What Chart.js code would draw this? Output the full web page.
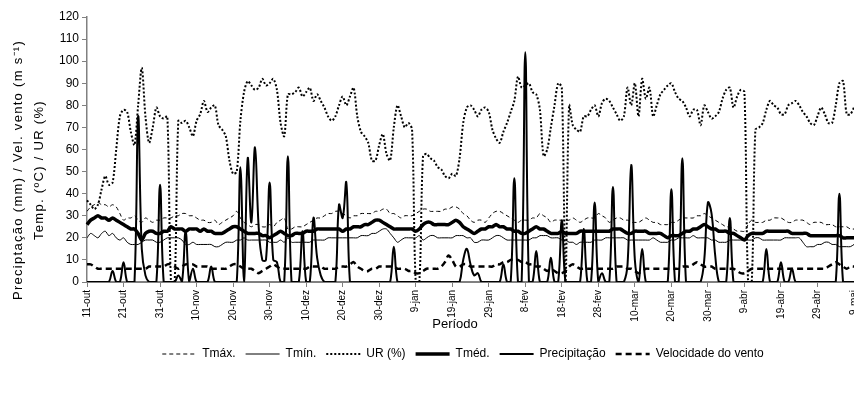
<!DOCTYPE html>
<html>
<head>
<meta charset="utf-8">
<script src="https://cdn.jsdelivr.net/npm/chart.js@4.4.0/dist/chart.umd.min.js"></script>
<style>
  html, body { margin: 0; padding: 0; background: #fff; overflow: hidden; }
  #wrap { width: 870px; height: 394px; }
</style>
</head>
<body>
<div id="wrap"><canvas id="grafico"></canvas></div>
<script>
// rótulos do eixo x (um a cada 10 dias)
var tickLabels = ['11-out','21-out','31-out','10-nov','20-nov','30-nov','10-dez','20-dez','30-dez','9-jan',
  '19-jan','29-jan','8-fev','18-fev','28-fev','10-mar','20-mar','30-mar','9-abr','19-abr','29-abr','9-mai'];

// valores diários (11-out a 9-mai)
var tmax = [
  32,34,35,36,35,35,34,35,34,31, 28,29,29,30,28,27,29,28,27,28,
  28,29,29,29,30,30,31,31,30,30, 29,28,28,27,27,28,26,27,28,29,
  30,32,29,27,26,25,26,26,25,25, 26,25,27,28,29,24,24,25,25,25,
  26,27,28,29,29,30,31,31,32,32, 31,30,29,30,30,31,31,31,31,32,
  32,33,33,31,31,30,29,30,30,30, 31,32,33,33,32,32,32,32,33,33,
  34,34,33,31,30,28,27,28,28,27, 29,31,32,32,31,30,29,28,27,28,
  28,28,29,29,31,30,29,27,28,28, 28,28,28,29,28,27,28,29,29,29,
  31,30,29,27,28,29,29,28,28,27, 27,27,28,29,28,27,27,26,26,26,
  27,27,28,29,29,29,29,30,30,31, 30,29,28,27,26,25,25,24,23,23,
  23,26,28,27,27,27,28,28,29,29, 29,28,27,27,28,28,28,27,26,27,
  27,27,26,26,26,25,25,25,25,24,24
];
var tmin = [
  20,22,21,20,22,23,21,22,20,19, 20,18,17,17,17,18,19,19,19,18,
  18,19,20,20,20,20,19,17,17,18, 17,17,17,17,17,16,16,17,18,18,
  18,19,19,20,19,19,19,19,19,19, 18,18,18,19,18,20,18,18,18,18,
  18,18,19,19,19,19,20,20,20,20, 20,20,20,20,20,21,21,21,22,22,
  23,24,24,22,20,18,19,20,20,20, 20,21,19,20,21,21,20,20,20,20,
  20,21,21,21,20,20,18,18,19,19, 19,20,21,21,20,19,19,19,19,19,
  19,19,20,20,21,21,21,20,20,20, 19,19,18,18,17,18,18,18,18,19,
  19,19,20,20,20,20,20,20,19,19, 19,19,19,19,19,20,19,18,18,18,
  19,19,20,20,20,20,21,20,20,20, 20,19,19,18,18,18,19,19,19,19,
  19,19,19,20,20,19,19,19,19,19, 19,20,20,20,20,20,18,16,16,16,
  17,17,18,18,17,17,16,16,16,16,17
];
var ur = [
  37,35,33,35,42,48,44,45,60,75, 78,77,68,62,80,97,75,63,70,79,
  75,74,75,0,0,73,72,73,70,66, 73,76,82,77,79,80,71,69,66,55,
  49,50,73,86,91,89,87,88,92,89, 90,92,87,72,66,85,85,86,88,84,
  86,88,82,85,82,79,75,73,75,80, 84,80,84,88,75,68,66,63,55,55,
  62,67,58,55,70,80,75,70,72,69, 0,0,57,58,56,55,52,51,48,47,
  49,48,56,72,79,80,78,75,78,79, 77,69,65,63,68,72,77,82,93,88,
  89,90,86,85,78,57,60,70,80,90, 88,0,80,71,69,68,75,75,78,80,
  75,81,83,82,79,76,73,75,88,80, 90,75,92,83,88,75,80,85,87,89,
  90,86,83,82,79,75,78,78,71,80, 77,74,75,77,83,87,88,79,84,87,
  86,0,0,69,70,72,78,82,80,79, 76,76,80,81,82,80,77,75,72,71,
  75,79,76,72,72,80,90,91,76,76,79
];
var tmed = [
  26,28,29,30,29,29,28,29,28,27, 26,25,24,24,22,19,22,23,23,22,
  22,23,23,25,24,24,24,23,24,24, 24,23,24,23,23,22,22,22,23,24,
  25,25,24,23,22,22,22,22,21,21, 20,21,22,23,22,21,21,22,22,22,
  23,23,23,24,24,24,24,24,24,24, 23,24,24,25,25,25,26,26,27,28,
  28,27,26,25,24,24,24,24,24,24, 23,24,26,27,27,26,26,26,26,26,
  27,28,27,25,24,23,22,23,24,24, 25,25,26,25,25,24,24,23,23,22,
  22,23,24,25,24,24,23,22,22,22, 23,22,22,22,22,23,23,23,23,23,
  23,23,23,23,24,24,24,23,22,22, 23,23,23,23,22,22,22,22,21,20,
  21,21,21,22,23,23,24,24,25,26, 25,24,24,23,23,23,22,22,21,20,
  19,21,22,22,22,22,23,23,23,23, 23,23,23,22,22,22,22,22,21,21,
  21,21,21,21,21,21,21,20,20,20,20
];
var precip = [
  0,0,0,0,0,0,0,5,0,0, 9,0,0,0,75,15,3,0,0,0,
  44,0,0,0,0,3,0,23,0,6, 0,0,0,0,7,0,0,0,0,0,
  0,0,52,0,56,27,61,25,10,10, 45,10,9,0,0,57,0,0,0,23,
  0,0,29,11,3,0,0,0,0,35, 29,45,0,0,0,0,0,0,0,0,
  0,0,0,0,16,0,0,0,0,0, 0,0,0,0,0,0,0,0,0,0,
  0,0,0,10,15,8,3,4,0,0, 0,0,0,0,8,0,0,47,0,0,
  104,0,0,14,0,0,0,11,0,0, 28,0,0,0,0,0,24,0,0,36,
  0,4,0,0,43,0,0,0,8,53, 10,0,15,0,0,0,0,0,0,0,
  42,0,0,56,0,0,0,0,0,10, 36,31,12,0,0,0,29,0,0,0,
  0,0,0,0,0,0,15,0,0,0, 9,0,0,6,0,0,0,0,0,0,
  0,0,0,0,0,0,40,0,0,0,0
];
var vento = [
  8,8,7,6,6,6,6,6,6,6, 6,6,6,6,6,6,6,7,7,7,
  7,7,8,8,7,6,7,8,8,8, 7,7,7,7,6,6,6,6,6,7,
  8,8,7,6,6,6,5,4,5,6, 7,8,7,6,6,6,6,6,6,6,
  6,7,7,7,7,6,6,6,6,7, 7,7,8,9,7,6,5,5,6,6,
  7,7,7,7,7,6,6,6,5,5, 4,4,5,6,6,6,6,7,9,12,
  10,7,7,8,8,7,7,7,7,7, 7,7,8,8,9,9,10,10,10,9,
  9,8,8,7,7,6,5,6,5,4, 4,5,7,8,7,6,6,6,6,6,
  6,6,6,6,6,7,7,7,6,6, 5,4,5,6,6,6,6,6,6,6,
  6,6,6,7,7,7,8,9,8,7, 7,7,6,6,6,6,6,6,5,4,
  4,5,6,6,6,6,6,6,6,6, 6,6,6,6,6,6,6,6,6,6,
  6,6,6,7,8,9,8,7,6,7,7
];

var dias = tmax.map(function(v, i) { return i; });
var fonte = '"Liberation Sans", Arial, sans-serif';

// títulos dos eixos desenhados à mão (posições do original)
var titulos = {
  id: 'titulos',
  afterLayout: function(chart) {
    // legenda um pouco deslocada para a direita, como no original
    chart.legend.left += 72;
  },
  afterDraw: function(chart) {
    var ctx = chart.ctx;
    ctx.save();
    ctx.fillStyle = '#000';
    ctx.textAlign = 'center';
    ctx.textBaseline = 'middle';
    ctx.font = '13px ' + fonte;
    ctx.fillText('Período', 455, 324);
    ctx.letterSpacing = '1.3px';
    ctx.translate(18, 170);
    ctx.rotate(-Math.PI / 2);
    ctx.fillText('Preciptação (mm) / Vel. vento (m s⁻¹)', 0, 0);
    ctx.fillText('Temp. (ºC) / UR (%)', 0, 21);
    ctx.restore();
  }
};

function serie(label, data, width, dash, tension) {
  return {
    label: label,
    data: data,
    borderColor: '#000',
    backgroundColor: '#000',
    borderWidth: width,
    borderDash: dash,
    pointRadius: 0,
    tension: tension,
    fill: false
  };
}

var ctx = document.getElementById('grafico');
var myChart = new Chart(ctx, {
  type: 'line',
  data: {
    labels: dias,
    datasets: [
      serie('Tmáx.', tmax, 1, [4, 3], 0.3),
      serie('Tmín.', tmin, 1, [], 0.3),
      serie('UR (%)', ur, 2, [2, 2], 0.3),
      serie('Tméd.', tmed, 3.5, [], 0.3),
      serie('Precipitação', precip, 2, [], 0.4),
      serie('Velocidade do vento', vento, 2.5, [6, 4], 0.3)
    ]
  },
  options: {
    responsive: true,
    maintainAspectRatio: false,
    animation: false,
    layout: { padding: { left: 0, top: 17, right: 16, bottom: 24 } },
    plugins: {
      legend: {
        position: 'bottom',
        labels: {
          usePointStyle: true,
          pointStyleWidth: 34,
          padding: 10,
          color: '#000',
          font: { family: fonte, size: 12 },
          // amostras de linha com o mesmo traço de cada série
          generateLabels: function(chart) {
            return chart.data.datasets.map(function(ds, i) {
              return {
                text: ds.label,
                fillStyle: '#000',
                strokeStyle: '#000',
                fontColor: '#000',
                lineWidth: ds.borderWidth,
                lineDash: ds.borderDash,
                pointStyle: 'line',
                hidden: false,
                datasetIndex: i
              };
            });
          }
        }
      },
      tooltip: { enabled: false }
    },
    scales: {
      x: {
        grid: { display: true, drawOnChartArea: false, drawTicks: true, tickLength: 5, color: '#808080' },
        border: { display: true, color: '#808080', width: 2 },
        ticks: {
          autoSkip: false,
          minRotation: 90,
          maxRotation: 90,
          padding: 3,
          color: '#000',
          font: { family: fonte, size: 10 },
          callback: function(v, i) { return i % 10 === 0 ? tickLabels[i / 10] : null; }
        },
        afterFit: function(scale) { scale.height = 56; }
      },
      y: {
        min: 0,
        max: 120,
        grid: { display: true, drawOnChartArea: false, drawTicks: true, tickLength: 5, color: '#808080' },
        border: { display: true, color: '#808080', width: 1.5 },
        ticks: {
          stepSize: 10,
          padding: 3,
          color: '#000',
          font: { family: fonte, size: 12 }
        },
        afterFit: function(scale) { scale.width = 87; }
      }
    }
  },
  plugins: [titulos]
});
</script>
</body>
</html>
